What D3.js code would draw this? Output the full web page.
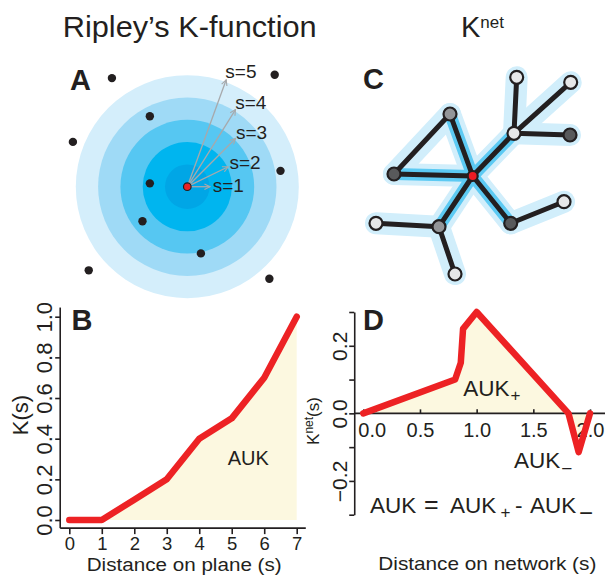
<!DOCTYPE html>
<html><head><meta charset="utf-8">
<script src="https://cdn.jsdelivr.net/npm/d3@7"></script>
<style>
body{margin:0;background:#fff}
svg{display:block}
text{font-family:"Liberation Sans",Arial,Helvetica,sans-serif;fill:#231f20}
</style>
</head><body>
<svg id="c" width="605" height="575"></svg>
<script>
// ---------- Data ----------
// Panel A: rings (distance s), arrows, surrounding points (in s units, relative to focal point)
const ringS = [5, 4, 3, 2, 1];
const ringColors = ["#d4eefb", "#9fdaf6", "#56c7f2", "#00b5ef", "#00a6e6"];
const arrowS = [1, 2, 3, 4, 5];
const arrowAngle = [0, 26, 45, 58, 70];
const arrowLabels = ["s=1", "s=2", "s=3", "s=4", "s=5"];
const ptX = [-3.38, 3.92, -1.68, -5.13, 4.18, -1.68, -2.01, 0.61, -4.42, 3.68];
const ptY = [4.87, 5.02, 3.16, 2.01, 0.71, 0.15, -1.55, -2.99, -3.75, -4.13];

// Panel B: Ripley's K
const bX = [0, 1, 2, 3, 4, 5, 6, 7];
const bK = [0, 0, 0.1, 0.2, 0.4, 0.5, 0.7, 1.0];
const bXTicks = [0, 1, 2, 3, 4, 5, 6, 7];
const bYTicks = [0, 0.2, 0.4, 0.6, 0.8, 1.0];

// Panel C: network
const nodeIds = ["R", "G1", "DG1", "W1", "W2", "W3", "DG2", "W4", "DG3", "G2", "W5", "W6"];
const nodeU = [5.135, 4.0, 1.2, 7.2, 7.335, 10.035, 10.0, 9.7, 7.035, 3.45, 0.3, 4.25];
const nodeV = [5.3, 2.2, 5.2, 3.165, 0.365, 0.615, 3.25, 6.585, 7.665, 7.835, 7.665, 10.2];
const nodeType = ["focal", "grey", "dark", "light", "light", "light", "dark", "light", "dark", "grey", "light", "light"];
const edgeFrom = ["R", "G1", "DG1", "R", "W1", "W1", "W1", "R", "DG3", "R", "G2", "G2"];
const edgeTo = ["G1", "DG1", "R", "W1", "W2", "W3", "DG2", "DG3", "W4", "G2", "W5", "W6"];

// Panel D: K-net
const dX = [0, 0.81, 0.86, 0.88, 1.0, 1.81, 1.9, 2.0];
const dK = [0, 0.10, 0.15, 0.25, 0.30, 0.0, -0.115, 0.0];
const dXTicks = [0, 0.5, 1, 1.5, 2];
const dYTicks = [-0.3, -0.2, -0.1, 0, 0.1, 0.2, 0.3];
const dYLabelled = [-0.2, 0, 0.2];

// ---------- Drawing ----------
const svg = d3.select("#c");
const ink = "#231f20", red = "#ed2224", cream = "#fcf8e0";

// Titles
svg.append("text").attr("x", 62.7).attr("y", 36.7).attr("font-size", 29)
  .attr("textLength", 254).attr("lengthAdjust", "spacingAndGlyphs").text("Ripley’s K-function");
const kt = svg.append("text").attr("x", 461).attr("y", 36.7).attr("font-size", 29);
kt.append("tspan").text("K");
kt.append("tspan").attr("font-size", 17).attr("dy", -8.4).text("net");

// Panel letters
[["A", 70, 90], ["C", 363, 89], ["B", 71.5, 330], ["D", 363, 330]].forEach(([t, x, y]) =>
  svg.append("text").attr("x", x).attr("y", y).attr("font-size", 29).attr("font-weight", "bold").text(t));

// ----- Panel A -----
const aUnit = 22.3, aCx = 187.3, aCy = 186.7;
const ax = d3.scaleLinear().domain([0, 1]).range([aCx, aCx + aUnit]);
const ay = d3.scaleLinear().domain([0, 1]).range([aCy, aCy - aUnit]);
const ar = d3.scaleLinear().domain([0, 1]).range([0, aUnit]);
const gA = svg.append("g");
gA.selectAll("circle.ring").data(ringS).join("circle").attr("class", "ring")
  .attr("cx", ax(0)).attr("cy", ay(0)).attr("r", d => ar(d))
  .attr("fill", (d, i) => ringColors[i]);

svg.append("defs").append("marker").attr("id", "ah").attr("viewBox", "0 0 10 10")
  .attr("refX", 9).attr("refY", 5).attr("markerWidth", 7).attr("markerHeight", 7)
  .attr("markerUnits", "userSpaceOnUse").attr("orient", "auto")
  .append("path").attr("d", "M1,1 L9,5 L1,9").attr("fill", "none")
  .attr("stroke", "#a7a9ac").attr("stroke-width", 1.6);

const arrows = arrowS.map((s, i) => {
  const a = arrowAngle[i] * Math.PI / 180;
  return { s, ang: arrowAngle[i], ex: ax(s * 1.02 * Math.cos(a)), ey: ay(s * 1.02 * Math.sin(a)), label: arrowLabels[i] };
});
gA.selectAll("line.arr").data(arrows).join("line").attr("class", "arr")
  .attr("x1", ax(0)).attr("y1", ay(0)).attr("x2", d => d.ex).attr("y2", d => d.ey)
  .attr("stroke", "#a7a9ac").attr("stroke-width", 1.3).attr("marker-end", "url(#ah)");
gA.selectAll("text.sl").data(arrows).join("text").attr("class", "sl")
  .attr("x", d => d.ex + 2.6 - d.ang / 20).attr("y", d => d.ey + 5 - d.ang / 10)
  .attr("font-size", 19).text(d => d.label);

gA.selectAll("circle.pt").data(ptX.map((x, i) => [x, ptY[i]])).join("circle").attr("class", "pt")
  .attr("cx", d => ax(d[0])).attr("cy", d => ay(d[1])).attr("r", 4.2).attr("fill", ink);
gA.append("circle").attr("cx", ax(0)).attr("cy", ay(0)).attr("r", 3.8)
  .attr("fill", red).attr("stroke", ink).attr("stroke-width", 1.2);

// ----- Panel C -----
const nx = d3.scaleLinear().domain([0, 10]).range([370, 570]);
const ny = d3.scaleLinear().domain([0, 10]).range([70, 270]);
const nodes = {};
nodeIds.forEach((id, i) => nodes[id] = { x: nx(nodeU[i]), y: ny(nodeV[i]), t: nodeType[i] });
const edges = edgeFrom.map((f, i) => ({ a: nodes[f], b: nodes[edgeTo[i]], near: f === "R" || edgeTo[i] === "R" }));
const gC = svg.append("g");
gC.selectAll("line.halo").data(edges).join("line").attr("class", "halo")
  .attr("x1", d => d.a.x).attr("y1", d => d.a.y).attr("x2", d => d.b.x).attr("y2", d => d.b.y)
  .attr("stroke", "#d1eefb").attr("stroke-width", 22).attr("stroke-linecap", "round");
gC.selectAll("line.halo2").data(edges.filter(e => e.near)).join("line").attr("class", "halo2")
  .attr("x1", d => d.a.x).attr("y1", d => d.a.y).attr("x2", d => d.b.x).attr("y2", d => d.b.y)
  .attr("stroke", "#5ccaf3").attr("stroke-width", 12).attr("stroke-linecap", "round");
gC.selectAll("line.edge").data(edges).join("line").attr("class", "edge")
  .attr("x1", d => d.a.x).attr("y1", d => d.a.y).attr("x2", d => d.b.x).attr("y2", d => d.b.y)
  .attr("stroke", ink).attr("stroke-width", 5).attr("stroke-linecap", "round");
const nodeFill = { focal: "#ed1c24", grey: "#939598", dark: "#58595b", light: "#e6e7e8" };
gC.selectAll("circle.node").data(Object.values(nodes)).join("circle").attr("class", "node")
  .attr("cx", d => d.x).attr("cy", d => d.y).attr("r", d => d.t === "focal" ? 5 : 6.5)
  .attr("fill", d => nodeFill[d.t]).attr("stroke", ink).attr("stroke-width", 2.2);

// ----- Panel B -----
const xB = d3.scaleLinear().domain([0, 7]).range([69.3, 296.7]);
const yB = d3.scaleLinear().domain([0, 1]).range([520, 316.7]);
const gB = svg.append("g");
const bData = bX.map((x, i) => [x, bK[i]]);
gB.append("path").datum(bData.filter(d => d[0] >= 1))
  .attr("d", d3.area().x(d => xB(d[0])).y0(yB(0)).y1(d => yB(d[1])))
  .attr("fill", cream);
// axes lines (L-shaped box)
gB.append("line").attr("x1", xB(-0.28)).attr("x2", xB(-0.28)).attr("y1", yB(1.045)).attr("y2", yB(-0.04))
  .attr("stroke", ink).attr("stroke-width", 1.6);
gB.append("line").attr("x1", xB(-0.28)).attr("x2", xB(7.28)).attr("y1", yB(-0.04)).attr("y2", yB(-0.04))
  .attr("stroke", ink).attr("stroke-width", 1.6);
const bxAxis = gB.append("g").attr("transform", `translate(0,${yB(-0.04)})`)
  .call(d3.axisBottom(xB).tickValues(bXTicks).tickSize(6).tickPadding(3).tickFormat(d3.format("d")));
bxAxis.select(".domain").remove();
bxAxis.selectAll("line").attr("stroke", ink).attr("stroke-width", 1.6);
bxAxis.selectAll("text").attr("font-size", 18.5).attr("fill", ink).attr("font-family", null);
const byAxis = gB.append("g").attr("transform", `translate(${xB(-0.28)},0)`)
  .call(d3.axisLeft(yB).tickValues(bYTicks).tickSize(5).tickFormat(d3.format(".1f")));
byAxis.select(".domain").remove();
byAxis.selectAll("line").attr("stroke", ink).attr("stroke-width", 1.6);
byAxis.selectAll("text").attr("font-size", 22).attr("fill", ink).attr("font-family", null)
  .attr("x", 0).attr("y", -8).attr("dy", 0).attr("text-anchor", "middle").attr("transform", "rotate(-90)");
gB.append("path").datum(bData)
  .attr("d", d3.line().x(d => xB(d[0])).y(d => yB(d[1])))
  .attr("fill", "none").attr("stroke", red).attr("stroke-width", 6.5)
  .attr("stroke-linecap", "round").attr("stroke-linejoin", "round");
gB.append("text").attr("x", 227.7).attr("y", 465).attr("font-size", 20).text("AUK");
gB.append("text").attr("transform", "translate(28.3,415) rotate(-90)").attr("text-anchor", "middle")
  .attr("font-size", 22).text("K(s)");
gB.append("text").attr("x", 86.7).attr("y", 570.5).attr("font-size", 17.5)
  .attr("textLength", 195).attr("lengthAdjust", "spacingAndGlyphs").text("Distance on plane (s)");

// ----- Panel D -----
const xD = d3.scaleLinear().domain([0, 2]).range([363.3, 590]);
const yD = d3.scaleLinear().domain([-0.3, 0.3]).range([514.7, 312]);
const gD = svg.append("g");
const dData = dX.map((x, i) => [x, dK[i]]);
gD.append("path").datum(dData)
  .attr("d", d3.area().x(d => xD(d[0])).y0(yD(0)).y1(d => yD(d[1])))
  .attr("fill", cream);
const yAxX = xD(-0.08);
gD.append("line").attr("x1", yAxX).attr("x2", 605).attr("y1", yD(0)).attr("y2", yD(0))
  .attr("stroke", ink).attr("stroke-width", 1.6);
const dxAxis = gD.append("g").attr("transform", `translate(0,${yD(0)})`)
  .call(d3.axisBottom(xD).tickValues(dXTicks).tickSize(-4).tickPadding(9).tickFormat(d3.format(".1f")));
dxAxis.select(".domain").remove();
dxAxis.selectAll("line").attr("stroke", ink).attr("stroke-width", 1.6);
dxAxis.selectAll("text").attr("font-size", 20).attr("fill", ink).attr("font-family", null)
  .attr("dx", d => (xD(d) - 14 < yAxX + 3) ? (yAxX + 3.5 - (xD(d) - 14)) : 0);
const dyAxis = gD.append("g").attr("transform", `translate(${yAxX},0)`)
  .call(d3.axisLeft(yD).tickValues(dYTicks).tickSize(5).tickSizeOuter(0)
    .tickFormat(d => dYLabelled.some(v => Math.abs(v - d) < 1e-9) ? d3.format(".1f")(d) : ""));
dyAxis.select(".domain").attr("stroke", ink).attr("stroke-width", 1.6);
dyAxis.selectAll("line").attr("stroke", ink).attr("stroke-width", 1.6);
dyAxis.selectAll("text").attr("font-size", 21).attr("fill", ink).attr("font-family", null)
  .attr("x", 0).attr("y", -7.6).attr("dy", 0).attr("text-anchor", "middle").attr("transform", "rotate(-90)");
gD.append("path").datum(dData)
  .attr("d", d3.line().x(d => xD(d[0])).y(d => yD(d[1])))
  .attr("fill", "none").attr("stroke", red).attr("stroke-width", 6.5)
  .attr("stroke-linecap", "round").attr("stroke-linejoin", "round");

// AUK+ label
const ap = gD.append("text").attr("x", 463.3).attr("y", 396).attr("font-size", 22.5);
ap.append("tspan").text("AUK");
ap.append("tspan").attr("font-size", 17).attr("dx", 1).attr("dy", 5).text("+");
// AUK- label
const am = gD.append("text").attr("x", 514).attr("y", 468.3).attr("font-size", 22.5);
am.append("tspan").text("AUK");
am.append("tspan").attr("font-size", 19).attr("dx", 1).attr("dy", 7).text("−");
// Equation
const eq = gD.append("text").attr("y", 512.7).attr("font-size", 22.5);
eq.append("tspan").attr("x", 370).text("AUK");
eq.append("tspan").attr("x", 424).attr("font-size", 25).text("=");
eq.append("tspan").attr("x", 450).attr("font-size", 22.5).text("AUK");
eq.append("tspan").attr("x", 500.5).attr("font-size", 17).attr("dy", 5.5).text("+");
eq.append("tspan").attr("x", 515).attr("font-size", 22.5).attr("dy", -5.5).text("-");
eq.append("tspan").attr("x", 530).text("AUK");
eq.append("tspan").attr("x", 579).attr("font-size", 24).attr("dy", 8).text("−");

// y label K^net(s)
const kl = gD.append("text").attr("transform", "translate(319,421) rotate(-90)").attr("text-anchor", "middle").attr("font-size", 17);
kl.append("tspan").text("K");
kl.append("tspan").attr("font-size", 12).attr("dy", -6).text("net");
kl.append("tspan").attr("dy", 6).text("(s)");
gD.append("text").attr("x", 378.3).attr("y", 570).attr("font-size", 19)
  .attr("textLength", 218).attr("lengthAdjust", "spacingAndGlyphs").text("Distance on network (s)");
</script>
</body></html>
